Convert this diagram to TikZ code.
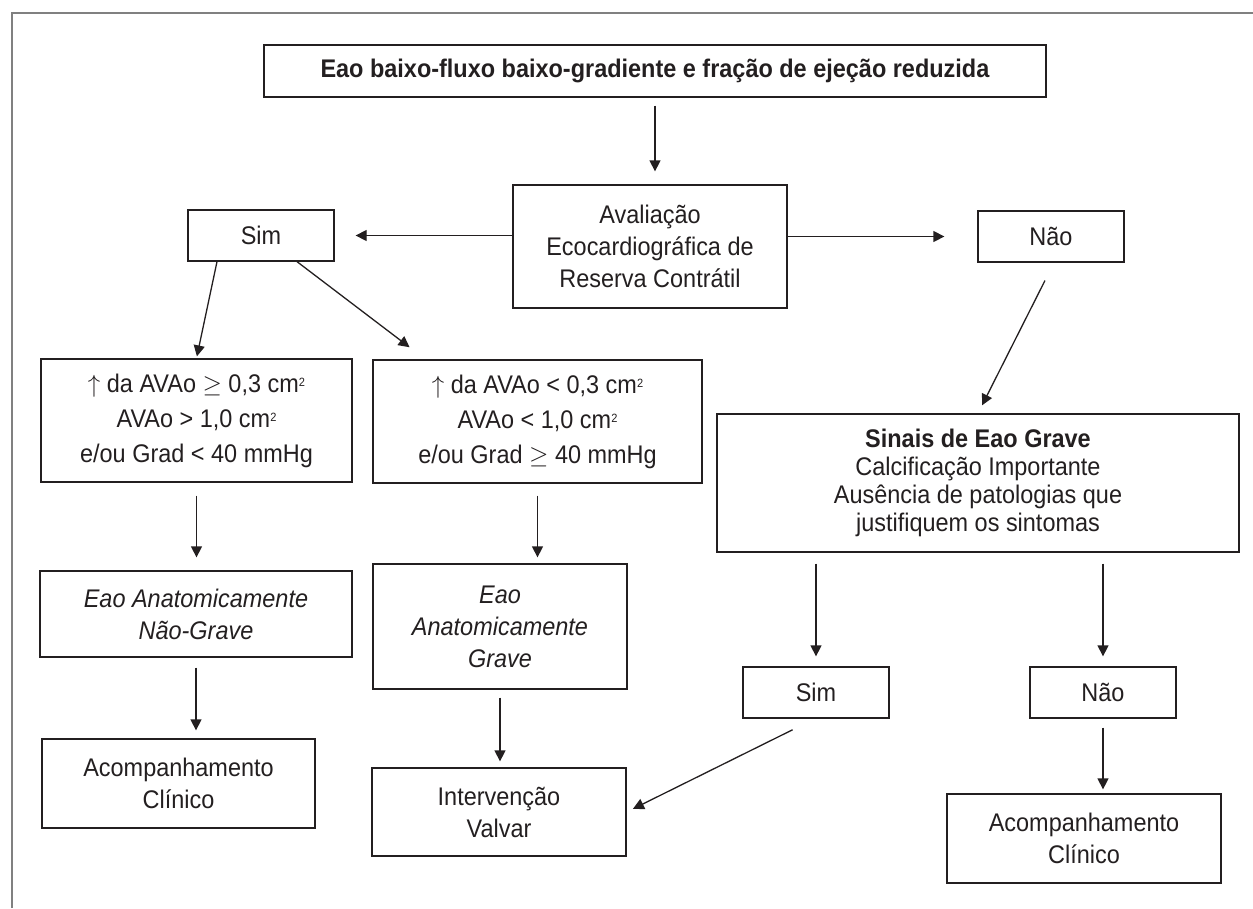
\documentclass[tikz,border=0pt]{standalone}
\usepackage{fontspec}
\setmainfont[FakeStretch=0.92]{Liberation Sans}
\usetikzlibrary{arrows.meta}
\definecolor{ink}{HTML}{231F20}
\tikzset{
    box/.style={draw=ink, line width=1.3pt, text=ink, align=center, inner sep=0pt,
        font=\fontsize{25.5}{32}\selectfont},
    arr/.style={draw=ink, line width=1.3pt, -{Triangle[length=11pt,width=11pt]}},
    frame/.style={draw=gray, line width=1.3pt},
}
\newcommand{\cmsq}{cm\raisebox{6pt}{\fontsize{12}{12}\selectfont 2}}
\begin{document}
\begin{tikzpicture}[x=1pt, y=-1pt]
        \useasboundingbox (0,0) rectangle (1253,908);
        % Outer frame
        \draw [frame] (12,908) -- (12,13) -- (1253,13);

        % Top and first question
        \node [box, minimum width=782pt, minimum height=52pt] (top) at (655,71)
            {\textbf{Eao baixo-fluxo baixo-gradiente e fração de ejeção reduzida}};
        \node [box, minimum width=274pt, minimum height=123pt] (aval) at (650,246.5)
            {Avaliação\\Ecocardiográfica de\\Reserva Contrátil};
        \node [box, minimum width=146pt, minimum height=51pt] (simA) at (261,235.5) {Sim};
        \node [box, minimum width=146pt, minimum height=51pt] (naoA) at (1051,236.5) {Não};

        % Left branch
        \node [box, minimum width=311pt, minimum height=123pt, font=\fontsize{25.5}{35}\selectfont] (ge) at (196.5,420.5)
            {$\uparrow$ da AVAo $\geq$ 0,3 \cmsq\\AVAo > 1,0 \cmsq\\e/ou Grad < 40 mmHg};
        \node [box, minimum width=329pt, minimum height=123pt, font=\fontsize{25.5}{35}\selectfont] (lt) at (537.5,421.5)
            {$\uparrow$ da AVAo < 0,3 \cmsq\\AVAo < 1,0 \cmsq\\e/ou Grad $\geq$ 40 mmHg};
        \node [box, minimum width=312pt, minimum height=86pt] (naograve) at (196,614)
            {\itshape Eao Anatomicamente\\\itshape Não-Grave};
        \node [box, minimum width=254pt, minimum height=125pt] (grave) at (500,626.5)
            {\itshape Eao\\\itshape Anatomicamente\\\itshape Grave};
        \node [box, minimum width=273pt, minimum height=89pt] (acompA) at (178.5,783.5)
            {Acompanhamento\\Clínico};
        \node [box, minimum width=254pt, minimum height=88pt] (interv) at (499,812)
            {Intervenção\\Valvar};

        % Right branch
        \node [box, minimum width=522pt, minimum height=138pt, font=\fontsize{25.5}{28}\selectfont] (sinais) at (978,483)
            {\textbf{Sinais de Eao Grave}\\Calcificação Importante\\Ausência de patologias que\\justifiquem os sintomas};
        \node [box, minimum width=146pt, minimum height=51pt] (simB) at (816,692.5) {Sim};
        \node [box, minimum width=146pt, minimum height=51pt] (naoB) at (1103,692.5) {Não};
        \node [box, minimum width=274pt, minimum height=89pt] (acompB) at (1084,838.5)
            {Acompanhamento\\Clínico};

        % Connectors
        \draw [arr, shorten <=8pt, shorten >=13pt] (top.south) -- (top.south |- aval.north);
        \draw [arr, shorten >=21pt] (aval.west |- simA.east) -- (simA.east);
        \draw [arr, shorten >=33pt] (aval.east |- naoA.west) -- (naoA.west);
        \draw [arr, shorten >=2pt] ([xshift=-44pt]simA.south) -- (ge.north);
        \draw [arr, shorten >=20pt] ([xshift=36pt]simA.south) -- ([xshift=-112pt]lt.north);
        \draw [arr, shorten <=20pt, shorten >=9pt] ([xshift=3pt]naoA.south) -- (sinais.north);
        \draw [arr, shorten <=13pt, shorten >=13pt] (ge.south) -- (ge.south |- naograve.north);
        \draw [arr, shorten <=12pt, shorten >=6pt] (lt.south) -- (lt.south |- grave.north);
        \draw [arr, shorten <=10pt, shorten >=8pt] (naograve.south) -- (naograve.south |- acompA.north);
        \draw [arr, shorten <=8pt, shorten >=6pt] (grave.south) -- (grave.south |- interv.north);
        \draw [arr, shorten <=11pt, shorten >=10pt] (simB.north |- sinais.south) -- (simB.north);
        \draw [arr, shorten <=11pt, shorten >=10pt] (naoB.north |- sinais.south) -- (naoB.north);
        \draw [arr, shorten <=25pt, shorten >=7pt] ([xshift=-1pt]simB.south) -- (interv.east);
        \draw [arr, shorten <=9pt, shorten >=4pt] (naoB.south) -- (naoB.south |- acompB.north);
\end{tikzpicture}
\end{document}
